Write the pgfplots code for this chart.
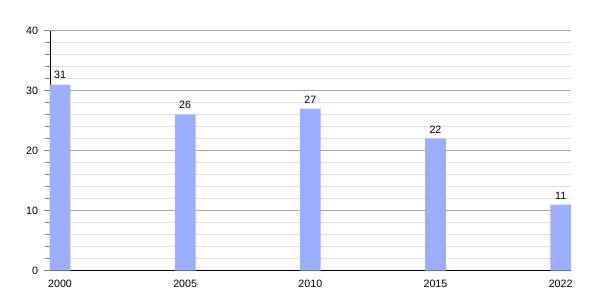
\documentclass[border=0pt]{standalone}
\usepackage{pgfplots}
\pgfplotsset{compat=1.18}
\usepackage{fontspec}
\setmainfont{Liberation Sans}
\definecolor{barblue}{HTML}{9BAEFF}
\begin{document}
\begin{tikzpicture}
\path[use as bounding box] (0,0) rectangle (450pt,225pt);
\begin{axis}[
  at={(37.5pt,22pt)}, anchor=south west,
  scale only axis, width=390.5pt, height=180pt,
  xmin=-0.08, xmax=4.08, ymin=0, ymax=40,
  xtick={0,1,2,3,4}, xticklabels={2000,2005,2010,2015,2022},
  xtick style={draw=none},
  ytick={0,10,20,30,40}, minor ytick={2,4,6,8,12,14,16,18,22,24,26,28,32,34,36,38},
  ymajorgrids, yminorgrids,
  major grid style={color=black!35, line width=0.6pt},
  minor grid style={color=black!12, line width=0.6pt},
  axis x line*=bottom, axis y line*=left,
  axis line style={line width=0.7pt, -},
  ytick style={line width=0.6pt},
  tick align=outside,
  major tick length=4.5pt, minor tick length=3.5pt,
  tick label style={font=\fontsize{8}{9}\selectfont},
  /pgf/number format/assume math mode=true,
  yticklabel style={xshift=-1pt},
  xticklabel style={yshift=1pt},
  ybar, bar width=15.5pt, bar shift=0pt,
  nodes near coords,
  nodes near coords style={font=\fontsize{8}{9}\selectfont, inner sep=1.5pt, yshift=2.5pt},
  clip=false,
  axis on top=false,
]
\addplot[fill=barblue, draw=none] coordinates {(0,31) (1,26) (2,27) (3,22) (4,11)};
\end{axis}
\end{tikzpicture}
\end{document}
